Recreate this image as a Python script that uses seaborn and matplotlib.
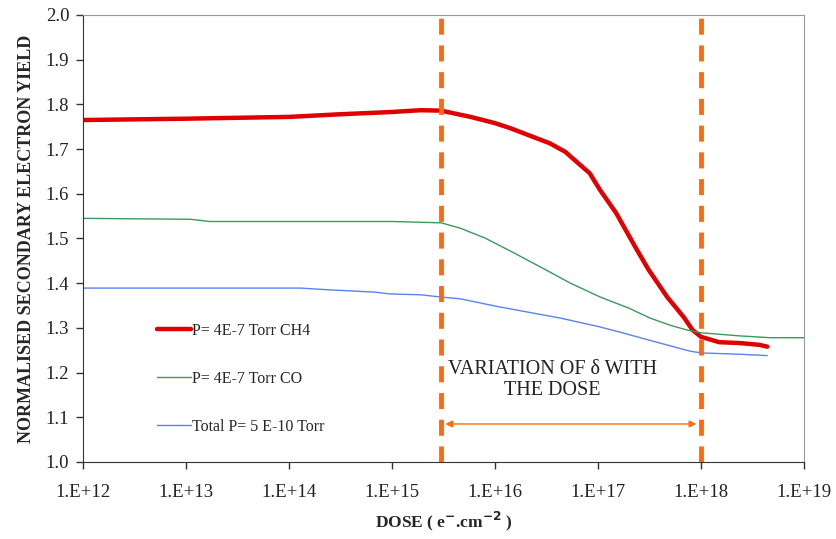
import numpy as np
import pandas as pd
import matplotlib
matplotlib.use("Agg")
import matplotlib.pyplot as plt
from matplotlib.ticker import FixedLocator, FuncFormatter, NullLocator
import seaborn as sns

# data
ch4_dose = [1e12, 1e13, 1e14, 3.2e14, 1e15, 1.9e15, 3e15, 5.8e15, 1e16, 1.4e16,
            3.4e16, 4.8e16, 8.3e16, 1.05e17, 1.5e17, 2.3e17, 3.1e17, 4.7e17,
            6.8e17, 8.3e17, 1e18, 1.5e18, 2.4e18, 3.7e18, 4.4e18]
ch4_yield = [1.765, 1.768, 1.772, 1.778, 1.783, 1.787, 1.786, 1.772, 1.758, 1.747,
             1.713, 1.694, 1.646, 1.608, 1.557, 1.481, 1.430, 1.369,
             1.324, 1.295, 1.280, 1.268, 1.266, 1.262, 1.258]

co_dose = [1e12, 1.1e13, 1.7e13, 1e15, 3e15, 4.6e15, 8e15, 1.55e16, 3.1e16, 5.4e16,
           1.05e17, 2e17, 3.2e17, 5e17, 7.4e17, 1e18, 2.4e18, 4.7e18, 1e19]
co_yield = [1.545, 1.543, 1.538, 1.538, 1.535, 1.523, 1.501, 1.467, 1.430, 1.400,
            1.369, 1.344, 1.322, 1.306, 1.295, 1.289, 1.282, 1.278, 1.278]

base_dose = [1e12, 1.3e14, 2.5e14, 6.8e14, 9.5e14, 1.9e15, 3e15, 4.6e15, 1.1e16,
             4.3e16, 1.05e17, 1.6e17, 4e17, 7.8e17, 1e18, 2.4e18, 4.4e18]
base_yield = [1.389, 1.389, 1.385, 1.380, 1.376, 1.374, 1.369, 1.365, 1.347,
              1.322, 1.302, 1.291, 1.266, 1.248, 1.244, 1.241, 1.238]

labels = ["P= 4E-7 Torr CH4", "P= 4E-7 Torr CO", "Total P= 5 E-10 Torr"]
x_ticks = [1e12, 1e13, 1e14, 1e15, 1e16, 1e17, 1e18, 1e19]
y_ticks = [1.0, 1.1, 1.2, 1.3, 1.4, 1.5, 1.6, 1.7, 1.8, 1.9, 2.0]
marker_dose = [3e15, 1e18]
arrow_span = [3.3e15, 9e17]
arrow_level = 1.085

sns.set_style("ticks")
plt.rcParams["font.family"] = ["Liberation Serif", "DejaVu Serif"]

fig = plt.figure(figsize=(8.36, 5.39), dpi=100)
ax = fig.add_axes([0.0993, 0.1429, 0.8624, 0.8293])

df_ch4 = pd.DataFrame({"dose": ch4_dose, "yield": ch4_yield})
df_co = pd.DataFrame({"dose": co_dose, "yield": co_yield})
df_base = pd.DataFrame({"dose": base_dose, "yield": base_yield})

sns.lineplot(data=df_ch4, x="dose", y="yield", ax=ax, color="#e00000", lw=3.2,
             label=labels[0])
sns.lineplot(data=df_co, x="dose", y="yield", ax=ax, color="#3a9a5c", lw=1.0,
             label=labels[1])
sns.lineplot(data=df_base, x="dose", y="yield", ax=ax, color="#5b82f0", lw=1.0,
             label=labels[2])

# dose markers
for d in marker_dose:
    ax.axvline(d, color="#ff6a0a", lw=3.5, dashes=(3.3, 2.2), zorder=5)

ax.annotate("", xy=(arrow_span[0], arrow_level), xytext=(arrow_span[1], arrow_level),
            arrowprops=dict(arrowstyle="<|-|>", color="#ff6a0a", lw=1.0,
                            mutation_scale=10, shrinkA=0, shrinkB=0))
ax.text(3.6e16, 1.183, "VARIATION OF \u03b4 WITH\nTHE DOSE", ha="center", va="center",
        fontsize=14.5, linespacing=1.15, color="#222222")

ax.set_xscale("log")
ax.set_xlim(1e12, 1e19)
ax.set_ylim(1.0, 2.0)
ax.xaxis.set_major_locator(FixedLocator(x_ticks))
ax.xaxis.set_minor_locator(NullLocator())
ax.xaxis.set_major_formatter(FuncFormatter(lambda v, p: "1.E+%d" % round(np.log10(v))))
ax.yaxis.set_major_locator(FixedLocator(y_ticks))
ax.yaxis.set_major_formatter(FuncFormatter(lambda v, p: "%.1f" % v))
ax.tick_params(axis="both", direction="out", length=5, width=1, labelsize=13.5,
               color="#333333", labelcolor="#222222")
ax.tick_params(axis="x", pad=11)
ax.tick_params(axis="y", pad=5)

for side in ["top", "right"]:
    ax.spines[side].set_visible(True)
    ax.spines[side].set_color("#999999")
for side in ["left", "bottom"]:
    ax.spines[side].set_color("#333333")

ax.set_xlabel("DOSE ( e$^{\\mathbf{-}}$.cm$^{\\mathbf{-2}}$ )", fontsize=12.5,
              fontweight="bold", labelpad=6)
ax.set_ylabel("NORMALISED SECONDARY ELECTRON YIELD", fontsize=13,
              fontweight="bold", labelpad=8)

ax.legend(loc="upper left", bbox_to_anchor=(0.103, 0.311), frameon=False,
          fontsize=11.5, labelspacing=2.0, handlelength=2.1, handletextpad=0.1,
          borderpad=0, borderaxespad=0)

fig.savefig("out.png", dpi=100)
